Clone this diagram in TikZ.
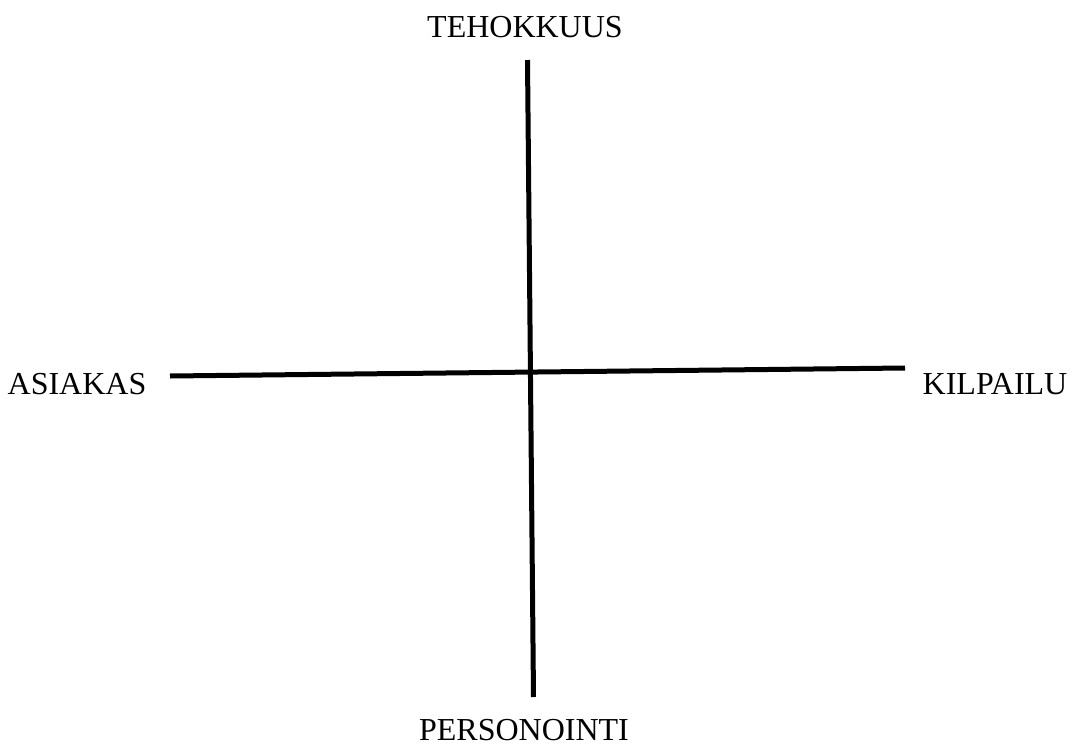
\documentclass[tikz,border=0pt]{standalone}
\usepackage{fontspec}
\setmainfont{Liberation Serif}
\begin{document}
\begin{tikzpicture}[x=1pt,y=-1pt,
  axis/.style={line width=5pt,black},
  lab/.style={font=\fontsize{32}{37}\selectfont,inner sep=0pt,anchor=base}]
\useasboundingbox (0,0) rectangle (1072,747);
\coordinate (top) at (527.5,60);
\coordinate (bot) at (533.5,697);
\coordinate (lft) at (170,376);
\coordinate (rgt) at (905,368);
\draw[axis] (top) -- (bot);
\draw[axis] (lft) -- (rgt);
\node[lab] (t) at (525,37) {TEHOKKUUS};
\node[lab] (a) at (77,394) {ASIAKAS};
\node[lab] (k) at (995,394) {KILPAILU};
\node[lab] (p) at (524,740) {PERSONOINTI};
\end{tikzpicture}
\end{document}
